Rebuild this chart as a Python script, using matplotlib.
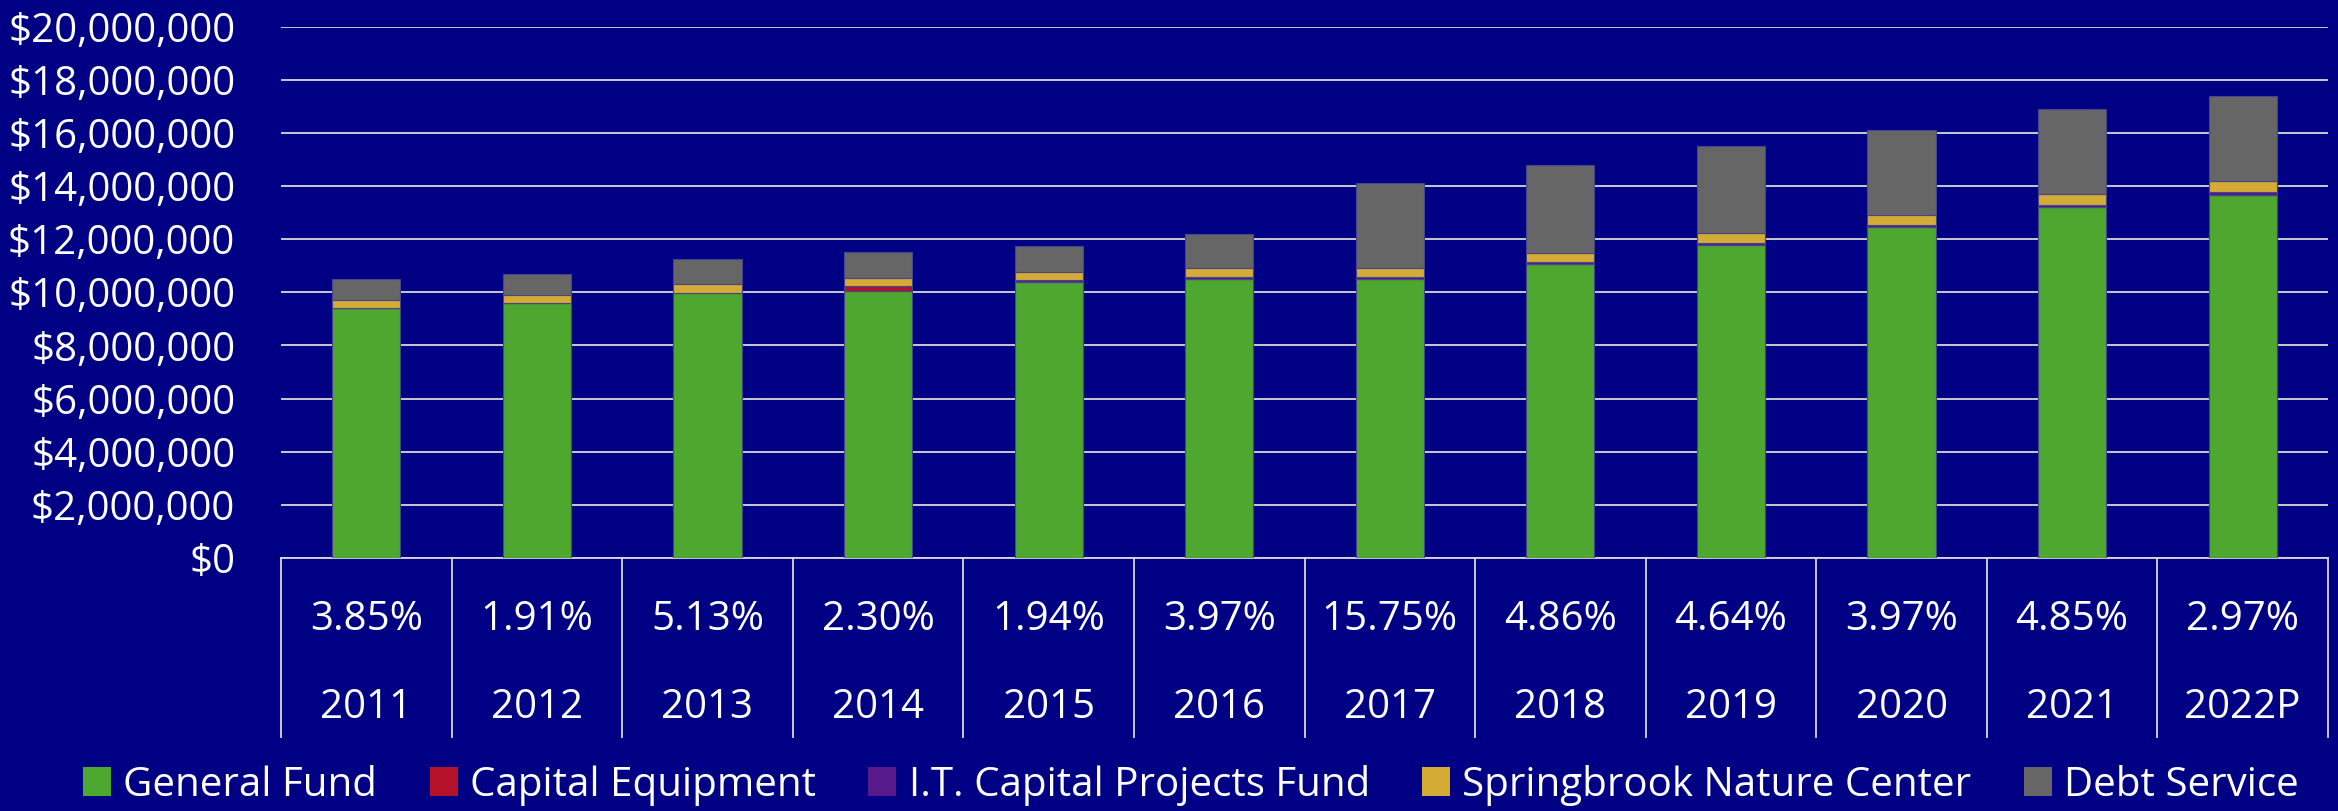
import matplotlib
matplotlib.use("Agg")
import matplotlib.pyplot as plt
import numpy as np
from matplotlib.ticker import FuncFormatter
from matplotlib.patches import Patch

years = ["2011", "2012", "2013", "2014", "2015", "2016", "2017", "2018", "2019", "2020", "2021", "2022P"]
pct_change = ["3.85%", "1.91%", "5.13%", "2.30%", "1.94%", "3.97%", "15.75%", "4.86%", "4.64%", "3.97%", "4.85%", "2.97%"]

general_fund = [9.40, 9.60, 9.96, 10.06, 10.40, 10.51, 10.51, 11.06, 11.78, 12.44, 13.22, 13.66]
capital_equipment = [0.00, 0.00, 0.00, 0.17, 0.00, 0.00, 0.00, 0.00, 0.00, 0.00, 0.00, 0.00]
it_capital = [0.00, 0.00, 0.00, 0.00, 0.05, 0.06, 0.06, 0.06, 0.06, 0.08, 0.05, 0.10]
springbrook = [0.31, 0.30, 0.34, 0.32, 0.31, 0.34, 0.34, 0.35, 0.39, 0.39, 0.43, 0.43]
debt_service = [0.78, 0.80, 0.94, 0.96, 0.97, 1.28, 3.20, 3.32, 3.26, 3.20, 3.19, 3.20]

series_names = ["General Fund", "Capital Equipment", "I.T. Capital Projects Fund",
                "Springbrook Nature Center", "Debt Service"]
series_vals = [general_fund, capital_equipment, it_capital, springbrook, debt_service]
colors = ["#4EA72E", "#B5122A", "#58198A", "#D3AB35", "#666666"]

BG = "#000085"
FONT = ["Open Sans", "DejaVu Sans"]
FS = 29

plt.rcParams["font.family"] = FONT

fig = plt.figure(figsize=(23.38, 8.11), dpi=100, facecolor=BG)
ax = fig.add_axes([281/2338, 1-557.9/811, (2328-281)/2338, (557.9-26.6)/811])
ax.set_facecolor(BG)

x = np.arange(len(years))
bottom = np.zeros(len(years))
for name, vals, c in zip(series_names, series_vals, colors):
    v = np.array(vals) * 1e6
    ax.bar(x, v, 0.4, bottom=bottom, color=c, edgecolor="#45458a", linewidth=0.8, zorder=3)
    bottom += v

ax.set_xlim(-0.5, len(years) - 0.5)
ax.set_ylim(0, 20e6)
ax.set_yticks(np.arange(0, 20e6 + 1, 2e6))
ax.yaxis.set_major_formatter(FuncFormatter(lambda v, p: "${:,.0f}".format(v)))
ax.tick_params(axis="y", length=0, pad=33, labelsize=FS, labelcolor="white")
ax.tick_params(axis="x", length=0, labelbottom=False)
ax.grid(axis="y", color="#D9D9D9", linewidth=1.3, zorder=0)
for s in ["top", "right", "left"]:
    ax.spines[s].set_visible(False)
ax.spines["bottom"].set_color("#D9D9D9")
ax.spines["bottom"].set_linewidth(1.3)

# category table below the axis
trans = ax.get_xaxis_transform()
table_bottom = -(736.7 - 557.9) / 531.3
for b in np.arange(-0.5, len(years), 1.0):
    ax.plot([b, b], [0, table_bottom], transform=trans, color="#D9D9D9",
            linewidth=1.3, clip_on=False)
pct_y = -(620 - 557.9) / 531.3
yr_y = -(708 - 557.9) / 531.3
for i in range(len(years)):
    ax.text(i, pct_y, pct_change[i], transform=trans, ha="center", va="center",
            color="white", fontsize=FS)
    ax.text(i, yr_y, years[i], transform=trans, ha="center", va="center",
            color="white", fontsize=FS)

handles = [Patch(facecolor=c, edgecolor="none") for c in colors]
leg = fig.legend(handles, series_names, loc="center", bbox_to_anchor=(1191/2338, 1-785/811),
                 ncol=5, frameon=False, fontsize=FS, handlelength=0.7, handleheight=0.7,
                 handletextpad=0.3, columnspacing=1.3, labelcolor="white")

fig.savefig("out.png", dpi=100, facecolor=BG)
